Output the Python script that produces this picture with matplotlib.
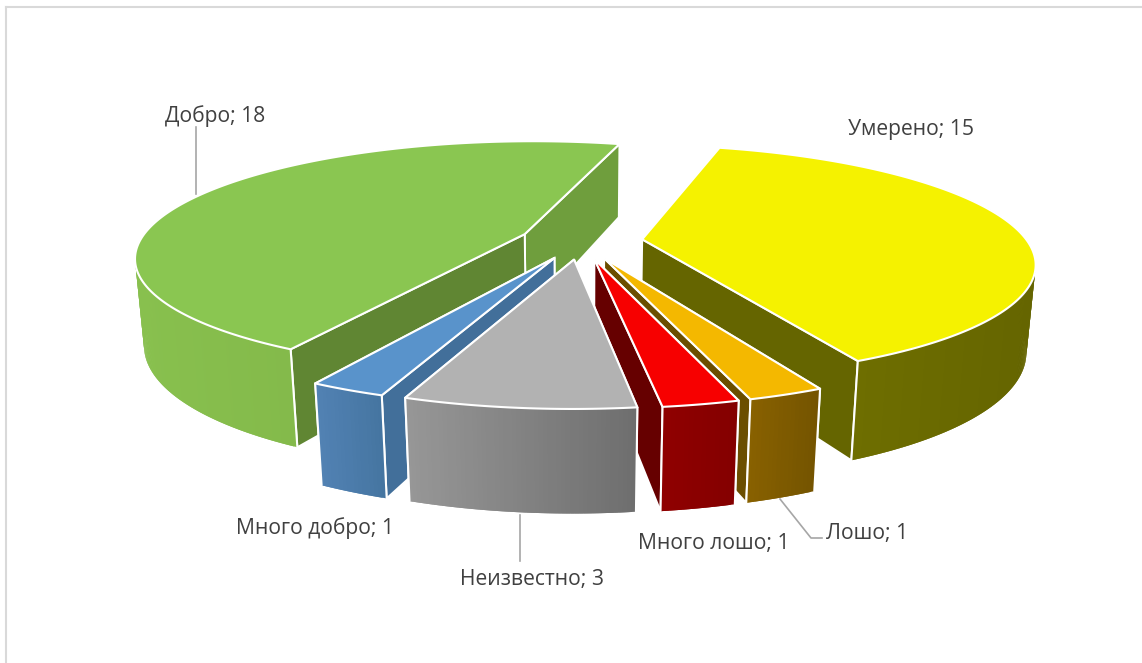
import numpy as np
import matplotlib
matplotlib.use('Agg')
import matplotlib.pyplot as plt
from matplotlib.patches import Polygon

categories = ['Умерено', 'Лошо', 'Много лошо', 'Неизвестно', 'Много добро', 'Добро']
values = [15, 1, 1, 3, 1, 18]

top_colors = ['#F5F200', '#F4B800', '#F70000', '#B2B2B2', '#5993CB', '#8AC651']
wall_left = ['#757500', '#8A6200', '#900000', '#979797', '#5282B4', '#88C04E']
wall_right = ['#656500', '#745400', '#840000', '#6E6E6E', '#44749F', '#7BAD43']
side_start = ['#656500', '#6B4E00', '#660000', '#6E6E6E', '#426F9A', '#608633']
side_end = ['#656500', '#6B4E00', '#660000', '#6E6E6E', '#426F9A', '#6F9E3D']

# label anchor, left middle of the text
label_pos = [(848, 130), (826, 533), (638, 543), (460, 579), (236, 528), (165, 116)]

# chart projection settings, fitted by eye
start_angle = 15.5
explode = 0.16
cx, cy = 581, 241
rx, ry = 385, 113
persp = 0.19
depth_persp = 0.02
height = 87


def project(x, y, d):
    w = 1 + persp * y + depth_persp * d
    return cx + rx * x / w, cy + (-ry * y + height * d) / w


def mix(c1, c2, t):
    a = np.array(matplotlib.colors.to_rgb(c1))
    b = np.array(matplotlib.colors.to_rgb(c2))
    return a + (b - a) * t


def draw_strips(ax, tx, ty, bx, by, keep, i, z, left, right):
    # outer wall as thin strips, each one overlaps the next so no seams show
    n = len(tx)
    for k in range(n - 1):
        if not keep[k]:
            continue
        e = min(k + 2, n - 1)
        t = ((tx[k] + tx[k + 1]) / 2 - left) / (right - left)
        c = mix(wall_left[i], wall_right[i], t)
        ax.add_patch(Polygon([(tx[k], ty[k]), (tx[e], ty[e]), (bx[e], by[e]), (bx[k], by[k])],
                             fc=c, ec='none', zorder=z))


def draw_slice(ax, a0, a1, i, z):
    mid = np.radians((a0 + a1) / 2)
    ox, oy = explode * np.sin(mid), explode * np.cos(mid)
    th = np.radians(np.linspace(a0, a1, max(int(a1 - a0) * 2, 8)))
    xs = ox + np.sin(th)
    ys = oy + np.cos(th)

    tx, ty = project(xs, ys, 0)
    bx, by = project(xs, ys, 1)
    ax_top, ay_top = project(ox, oy, 0)
    ax_bot, ay_bot = project(ox, oy, 1)
    left, right = min(tx.min(), bx.min()), max(tx.max(), bx.max())

    back = np.cos(th) > 0
    draw_strips(ax, tx, ty, bx, by, back, i, z, left, right)

    # the two cut faces, the one further back goes first
    faces = [(0, side_start[i]), (-1, side_end[i])]
    if ys[0] < ys[-1]:
        faces.reverse()
    for k, c in faces:
        ax.add_patch(Polygon([(ax_top, ay_top), (tx[k], ty[k]), (bx[k], by[k]), (ax_bot, ay_bot)],
                             fc=c, ec='white', lw=1.4, zorder=z))

    draw_strips(ax, tx, ty, bx, by, ~back, i, z, left, right)
    for k in [0, -1]:
        if ys[k] < oy + 0.3:
            ax.plot([tx[k], bx[k]], [ty[k], by[k]], color='white', lw=1.5, zorder=z, solid_capstyle='round')

    pts = [(ax_top, ay_top)] + list(zip(tx, ty))
    ax.add_patch(Polygon(pts, fc=top_colors[i], ec='white', lw=1.5, joinstyle='round', zorder=z))


fig = plt.figure(figsize=(11.42, 6.63), dpi=100)
ax = fig.add_axes([0, 0, 1, 1])
ax.set_xlim(0, 1142)
ax.set_ylim(663, 0)
ax.axis('off')

# frame, only top and left are in the picture
ax.plot([6, 6], [663, 7], color='#D9D9D9', lw=1.5)
ax.plot([6, 1142], [7, 7], color='#D9D9D9', lw=1.5)

angles = start_angle + np.cumsum([0] + values) / sum(values) * 360
mids = (angles[:-1] + angles[1:]) / 2
order = np.argsort(-np.cos(np.radians(mids)))
for z, i in enumerate(order):
    draw_slice(ax, angles[i], angles[i + 1], i, 2 + z)

# leader lines
ax.plot([196, 196], [127, 194], color='#A6A6A6', lw=1.2, zorder=1)
ax.plot([520, 520], [515, 561], color='#A6A6A6', lw=1.2, zorder=1)
ax.plot([780, 811, 822], [499, 538, 538], color='#A6A6A6', lw=1.2, zorder=1)

for name, v, (x, y) in zip(categories, values, label_pos):
    ax.text(x, y, f'{name}; {v}', fontsize=15.2, color='#404040', family='Open Sans',
            ha='left', va='center', zorder=20)

fig.savefig('out.png', dpi=100)
